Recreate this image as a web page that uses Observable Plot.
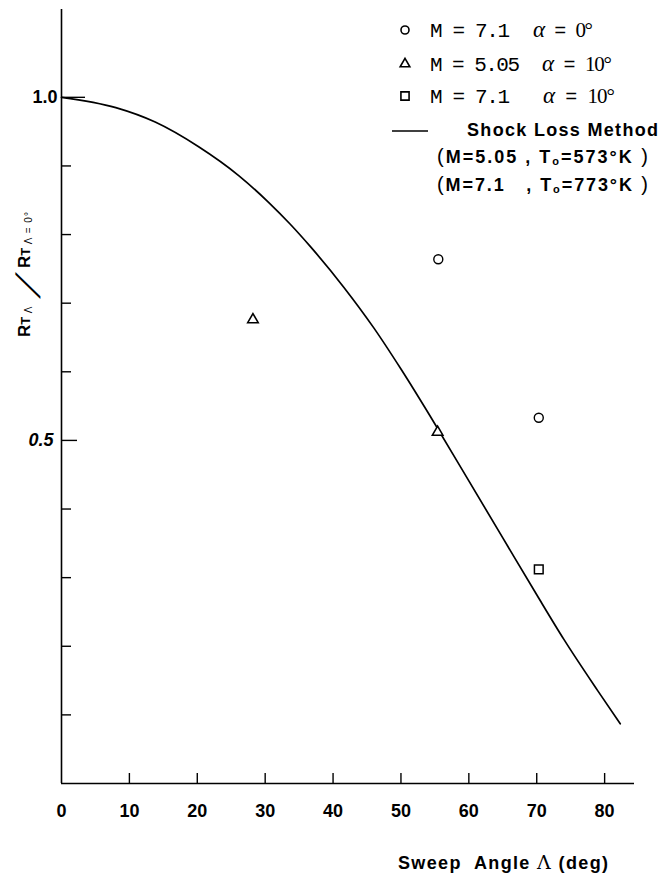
<!DOCTYPE html>
<html><head><meta charset="utf-8">
<script src="https://cdn.jsdelivr.net/npm/d3@7"></script>
<script src="https://cdn.jsdelivr.net/npm/@observablehq/plot@0.6"></script>
<style>html,body{margin:0;padding:0;background:#fff}#chart svg{display:block}</style>
</head><body><div id="chart"></div>
<script>
// Shock loss method curve (sweep angle, deg -> ratio)
const curveSweep = [0, 8, 13.8, 20.2, 26.1, 30.5, 33.7, 36.7, 41.6, 46.0, 50.0, 55.0, 60.0, 65.0, 70.0, 74.0, 79.0, 82.3];
const curveRatio = [1.0, 0.985, 0.964, 0.928, 0.886, 0.847, 0.815, 0.782, 0.723, 0.664, 0.604, 0.524, 0.441, 0.358, 0.275, 0.210, 0.135, 0.087];
// Experiments
const m71a0Sweep = [55.5, 70.3];   const m71a0Ratio = [0.764, 0.533];
const m505a10Sweep = [28.2, 55.4]; const m505a10Ratio = [0.676, 0.512];
const m71a10Sweep = [70.3];        const m71a10Ratio = [0.312];
// Ticks
const xTicks = [0, 10, 20, 30, 40, 50, 60, 70, 80];
const yMinorTicks = [0.1, 0.2, 0.3, 0.4, 0.6, 0.7, 0.8, 0.9];
const yMajorTicks = [0.5, 1.0];
// Legend texts
const legendM = ["M = 7.1", "M = 5.05", "M = 7.1"];
const legendAlpha = ["0°", "10°", "10°"];
const methodLabel = "Shock Loss Method";
const condLabels = [["M=5.05 , T", "=573°K"], ["M=7.1   , T", "=773°K"]];
const xLabel = ["Sweep  Angle ", "Λ", " (deg)"];

const curve = curveSweep.map((x, i) => ({x, y: curveRatio[i]}));
const pts = (xs, ys) => xs.map((x, i) => ({x, y: ys[i]}));

const plot = Plot.plot({
  width: 660, height: 876,
  marginLeft: 61, marginRight: 26, marginTop: 9, marginBottom: 93,
  x: {domain: [0, 84.4]},
  y: {domain: [0, 1.128]},
  style: {background: "#fff", color: "#000", fontFamily: "Liberation Sans"},
  marks: [
    Plot.ruleX([0], {strokeWidth: 1.6}),
    Plot.ruleY([0], {strokeWidth: 1.6}),
    Plot.axisX({ticks: xTicks.filter(d => d > 0), tickSize: -10, text: null, strokeWidth: 1.4, label: null}),
    Plot.axisX({ticks: xTicks, tickSize: 0, tickPadding: 21, fontSize: 18, fontWeight: "bold", label: null}),
    Plot.axisY({ticks: yMinorTicks, tickSize: -10, text: null, strokeWidth: 1.4, label: null}),
    Plot.axisY({ticks: [yMajorTicks[1]], tickSize: -24, text: null, strokeWidth: 1.4, label: null}),
    Plot.axisY({ticks: [yMajorTicks[0]], tickSize: -16, text: null, strokeWidth: 1.4, label: null}),
    Plot.axisY({ticks: [yMajorTicks[1]], tickSize: 0, tickPadding: 4, tickFormat: d => d.toFixed(1), fontSize: 18, fontWeight: "bold", label: null}),
    Plot.axisY({ticks: [yMajorTicks[0]], tickSize: 0, tickPadding: 8, tickFormat: d => d.toFixed(1), fontSize: 18, fontWeight: "bold", fontStyle: "italic", label: null}),
    Plot.line(curve, {x: "x", y: "y", curve: "monotone-x", strokeWidth: 1.7}),
    Plot.dot(pts(m71a0Sweep, m71a0Ratio), {x: "x", y: "y", r: 4.5, symbol: "circle", stroke: "#000", fill: "#fff", strokeWidth: 1.4}),
    Plot.dot(pts(m505a10Sweep, m505a10Ratio), {x: "x", y: "y", r: 3.9, symbol: "triangle", stroke: "#000", fill: "#fff", strokeWidth: 1.6}),
    Plot.dot(pts(m71a10Sweep, m71a10Ratio), {x: "x", y: "y", r: 4.9, symbol: "square", stroke: "#000", fill: "#fff", strokeWidth: 1.5})
  ]
});
document.getElementById("chart").appendChild(plot);

const svg = d3.select(plot);
const g = svg.append("g").attr("text-anchor", "start");

// Legend
const symbols = [d3.symbolCircle, d3.symbolTriangle, d3.symbolSquare];
const symSizes = [Math.PI * 4 * 4, Math.PI * 3.6 * 3.6, Math.PI * 4.6 * 4.6];
const rowY = [30, 64, 96];
const alphaX = [533, 542, 543];
const alphaLen = [60, 70, 72];
rowY.forEach((y, i) => {
  g.append("path").attr("transform", `translate(405,${y})`)
    .attr("d", d3.symbol(symbols[i], symSizes[i])())
    .attr("fill", "#fff").attr("stroke", "#000").attr("stroke-width", 1.6);
  g.append("text").attr("x", 430).attr("y", y).attr("dy", "0.35em")
    .attr("font-family", "Liberation Mono").attr("font-size", 21)
    .attr("textLength", i === 1 ? 90 : 80).attr("lengthAdjust", "spacing")
    .text(legendM[i]);
  const t = g.append("text").attr("x", alphaX[i]).attr("y", y).attr("dy", "0.35em")
    .attr("font-size", 20).attr("textLength", alphaLen[i]).attr("lengthAdjust", "spacing");
  t.append("tspan").attr("font-family", "Liberation Serif").attr("font-style", "italic").attr("font-size", 23).text("α");
  t.append("tspan").attr("font-family", "Liberation Mono").text(" = ");
  t.append("tspan").attr("font-family", "Liberation Serif").attr("font-size", 21).text(legendAlpha[i]);
});
g.append("line").attr("x1", 392).attr("x2", 428).attr("y1", 131).attr("y2", 131)
  .attr("stroke", "#000").attr("stroke-width", 1.6);
g.append("text").attr("x", 467).attr("y", 130).attr("dy", "0.35em")
  .attr("font-family", "Liberation Sans").attr("font-weight", "bold").attr("font-size", 18)
  .attr("textLength", 191).attr("lengthAdjust", "spacing").text(methodLabel);
[157, 185].forEach((y, i) => {
  const t = g.append("text").attr("x", 437).attr("y", y).attr("dy", "0.35em")
    .attr("font-family", "Liberation Sans").attr("font-weight", "bold").attr("font-size", 18)
    .attr("textLength", 211).attr("lengthAdjust", "spacing");
  t.append("tspan").attr("font-size", 20).attr("font-weight", "normal").text("(");
  t.append("tspan").text(condLabels[i][0]);
  t.append("tspan").attr("font-size", 11).attr("dy", 2).text("o");
  t.append("tspan").attr("dy", -2).text(condLabels[i][1]);
  t.append("tspan").attr("font-size", 20).attr("font-weight", "normal").text(" )");
});

// x-axis title
const xt = g.append("text").attr("x", 398).attr("y", 863).attr("dy", "0.35em")
  .attr("font-family", "Liberation Sans").attr("font-weight", "bold").attr("font-size", 18)
  .attr("textLength", 210).attr("lengthAdjust", "spacing");
xt.append("tspan").text(xLabel[0]);
xt.append("tspan").attr("font-weight", "normal").attr("font-family", "DejaVu Serif").attr("font-size", 19).text(xLabel[1]);
xt.append("tspan").text(xLabel[2]);

// y-axis title: R_TΛ / R_TΛ=0°
const y1 = g.append("text").attr("transform", "translate(30,337) rotate(-90)")
  .attr("font-family", "Liberation Sans").attr("font-weight", "bold");
y1.append("tspan").attr("font-size", 17).text("R");
y1.append("tspan").attr("font-size", 13).text("T ");
y1.append("tspan").attr("font-size", 10).attr("font-weight", "normal").attr("dy", 2).text("Λ");
g.append("text").attr("transform", "translate(40,294) rotate(-90) skewX(-35)")
  .attr("text-anchor", "middle")
  .attr("font-family", "Liberation Sans").attr("font-size", 34).text("/");
const y2 = g.append("text").attr("transform", "translate(30,268) rotate(-90)")
  .attr("font-family", "Liberation Sans").attr("font-weight", "bold");
y2.append("tspan").attr("font-size", 17).text("R");
y2.append("tspan").attr("font-size", 13).text("T ");
y2.append("tspan").attr("font-size", 10).attr("font-weight", "normal").attr("dy", 2).attr("letter-spacing", 1).text("Λ = 0°");
</script>
</body></html>
